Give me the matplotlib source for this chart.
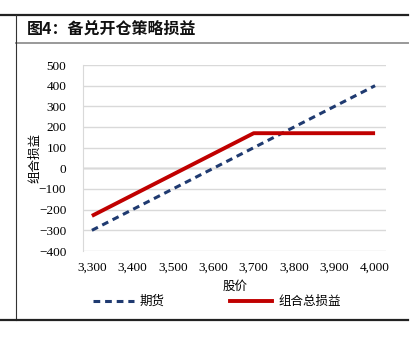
import matplotlib.pyplot as plt
from matplotlib.lines import Line2D
from matplotlib.ticker import FuncFormatter, MultipleLocator

prices = [3300, 3400, 3500, 3600, 3700, 3800, 3900, 4000]
futures_pnl = [-300, -200, -100, 0, 100, 200, 300, 400]
total_pnl = [-230, -130, -30, 70, 170, 170, 170, 170]

CJK = ["Noto Sans CJK SC", "DejaVu Sans"]
SERIF = ["Liberation Serif", "DejaVu Serif"]
NAVY = "#1f3a70"
RED = "#c00000"

W, H = 417, 345
fig = plt.figure(figsize=(W / 100, H / 100), dpi=100)
fig.patch.set_facecolor("white")


def fx(px):
    return px / W


def fy(py):
    return 1 - py / H


# frame lines of the report box
fig.add_artist(Line2D([0, fx(408)], [fy(15), fy(15)], color="#222222", lw=1.6))
fig.add_artist(Line2D([fx(16), fx(408)], [fy(43), fy(43)], color="#999999", lw=1.4))
fig.add_artist(Line2D([fx(16), fx(16)], [fy(15), fy(320)], color="#333333", lw=0.8))
fig.add_artist(Line2D([0, fx(408)], [fy(320), fy(320)], color="#222222", lw=1.6))

fig.text(fx(27), fy(29), "图4：备兑开仓策略损益", family=CJK, fontsize=11.5,
         fontweight="bold", ha="left", va="center", color="#111111")

ax = fig.add_axes([fx(83), fy(251), fx(386 - 83), (251 - 65) / H])
ax.plot(prices, futures_pnl, color=NAVY, lw=2.2, ls=(0, (2.2, 1.6)))
ax.plot(prices, total_pnl, color=RED, lw=2.8, solid_capstyle="butt")

ax.set_xlim(3278, 4027)
ax.set_ylim(-400, 500)
ax.yaxis.set_major_locator(MultipleLocator(100))
ax.xaxis.set_major_locator(MultipleLocator(100))
ax.xaxis.set_major_formatter(FuncFormatter(lambda v, p: f"{int(v):,}"))
ax.grid(axis="y", color="#d9d9d9", lw=1.0)
ax.axhline(0, color="#a6a6a6", lw=1.0, zorder=1)
for s in ["top", "right", "bottom"]:
    ax.spines[s].set_visible(False)
ax.spines["left"].set_color("#d9d9d9")
ax.tick_params(length=0, labelsize=9.5)
for lab in ax.get_xticklabels() + ax.get_yticklabels():
    lab.set_family(SERIF)
ax.tick_params(axis="x", pad=8)
ax.tick_params(axis="y", pad=12)

fig.text(fx(35), fy(158), "组合损益", family=CJK, fontsize=9, rotation=90,
         ha="center", va="center")
fig.text(fx(235), fy(286), "股价", family=CJK, fontsize=9,
         ha="center", va="center")

# legend
ly = fy(301)
fig.add_artist(Line2D([fx(93), fx(134)], [ly, ly], color=NAVY, lw=2.2, ls=(0, (2.2, 1.6))))
fig.text(fx(140), ly, "期货", family=CJK, fontsize=9, ha="left", va="center")
fig.add_artist(Line2D([fx(230), fx(272)], [ly, ly], color=RED, lw=2.8))
fig.text(fx(278), ly, "组合总损益", family=CJK, fontsize=9, ha="left", va="center")

fig.savefig("out.png", dpi=100)
